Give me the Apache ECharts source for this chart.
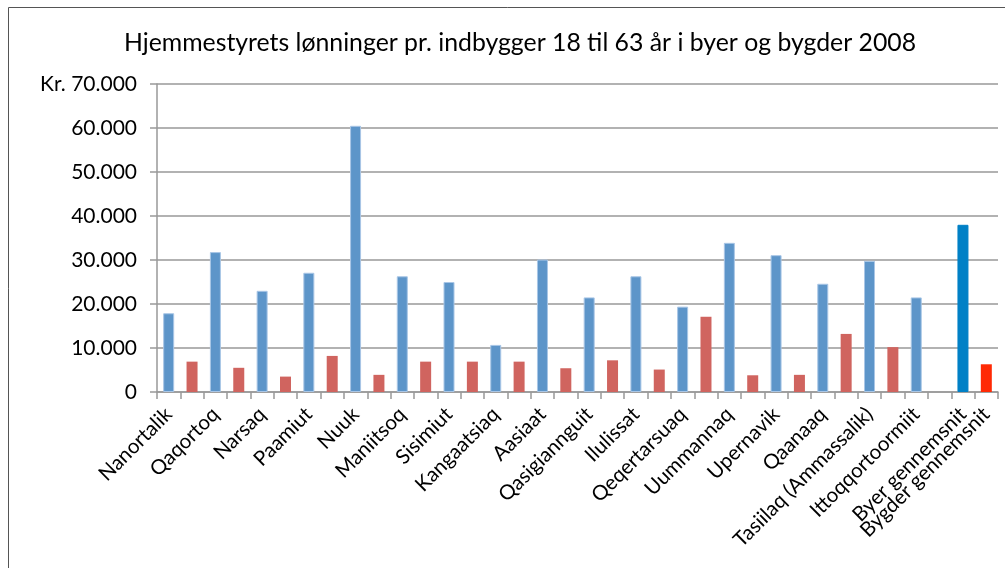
<!DOCTYPE html>
<html>
<head>
<meta charset="utf-8">
<script src="https://cdn.jsdelivr.net/npm/echarts@6/dist/echarts.min.js"></script>
<style>
  html, body { margin: 0; padding: 0; background: #fff; }
  #main { width: 1005px; height: 568px; }
</style>
</head>
<body>
<div id="main"></div>
<script>
  // byer (blå) og bygder (rød) pr. by
  var towns = ['Nanortalik','Qaqortoq','Narsaq','Paamiut','Nuuk','Maniitsoq','Sisimiut','Kangaatsiaq','Aasiaat',
    'Qasigiannguit','Ilulissat','Qeqertarsuaq','Uummannaq','Upernavik','Qaanaaq','Tasiilaq (Ammassalik)','Ittoqqortoormiit'];
  var byer   = [17900,31800,23000,27100,60500,26300,25000,10700,30100,21500,26300,19400,33900,31100,24600,29800,21500];
  var bygder = [6900,5500,3500,8200,3900,6900,6900,6900,5400,7200,5100,17100,3800,3900,13200,10200,'-'];
  var avgNames  = ['Byer gennemsnit','Bygder gennemsnit'];
  var avgValues = [38000, 6300];

  var categories = [];
  var blueData = [];
  var redData = [];
  for (var i = 0; i < towns.length; i++) {
    categories.push(towns[i]); categories.push('');
    blueData.push(byer[i]); blueData.push('-');
    redData.push('-'); redData.push(bygder[i]);
  }
  categories.push(avgNames[0]); categories.push(avgNames[1]);
  blueData.push({value: avgValues[0], itemStyle: {color: '#0080c6', borderColor: '#0080c6'}}); blueData.push('-');
  redData.push('-'); redData.push({value: avgValues[1], itemStyle: {color: '#ff2a05'}});

  var myChart = echarts.init(document.getElementById('main'));
  myChart.setOption({
    backgroundColor: '#fff',
    animation: false,
    textStyle: { fontFamily: 'Lato' },
    title: {
      text: 'Hjemmestyrets lønninger pr. indbygger 18 til 63 år i byer og bygder 2008',
      left: 119,
      top: 26,
      textStyle: { fontSize: 24.8, fontWeight: 'normal', color: '#000', fontFamily: 'Lato' }
    },
    graphic: [{
      type: 'rect',
      shape: { x: 8.5, y: 7.5, width: 1100, height: 700 },
      style: { fill: 'none', stroke: '#555', lineWidth: 1 }
    }],
    grid: { left: 157, right: 7, top: 84, bottom: 176 },
    xAxis: {
      type: 'category',
      data: categories,
      axisLine: { lineStyle: { color: '#999', width: 1.5 } },
      axisTick: { show: true, interval: 0, length: 7, lineStyle: { color: '#999', width: 1.5 } },
      axisLabel: {
        interval: 0,
        rotate: 45,
        margin: 19,
        fontSize: 20.5,
        color: '#000',
        fontFamily: 'Lato'
      }
    },
    yAxis: {
      type: 'value',
      min: 0,
      max: 70000,
      interval: 10000,
      axisLine: { show: true, lineStyle: { color: '#999', width: 1.5 } },
      axisTick: { show: true, length: 7, lineStyle: { color: '#999', width: 1.5 } },
      splitLine: { lineStyle: { color: '#999', width: 1.5 } },
      axisLabel: {
        margin: 20,
        fontSize: 21,
        color: '#000',
        fontFamily: 'Lato',
        formatter: function (v) {
          var s = v === 0 ? '0' : (v / 1000) + '.000';
          return v === 70000 ? 'Kr. ' + s : s;
        }
      }
    },
    series: [{
      name: 'Byer',
      type: 'bar',
      stack: 'all',
      barWidth: 11,
      data: blueData,
      itemStyle: { color: '#5d95c9', borderColor: '#a9c6e6', borderWidth: 1 }
    }, {
      name: 'Bygder',
      type: 'bar',
      stack: 'all',
      barWidth: 11,
      data: redData,
      itemStyle: { color: '#d0645f' }
    }]
  });
</script>
</body>
</html>
